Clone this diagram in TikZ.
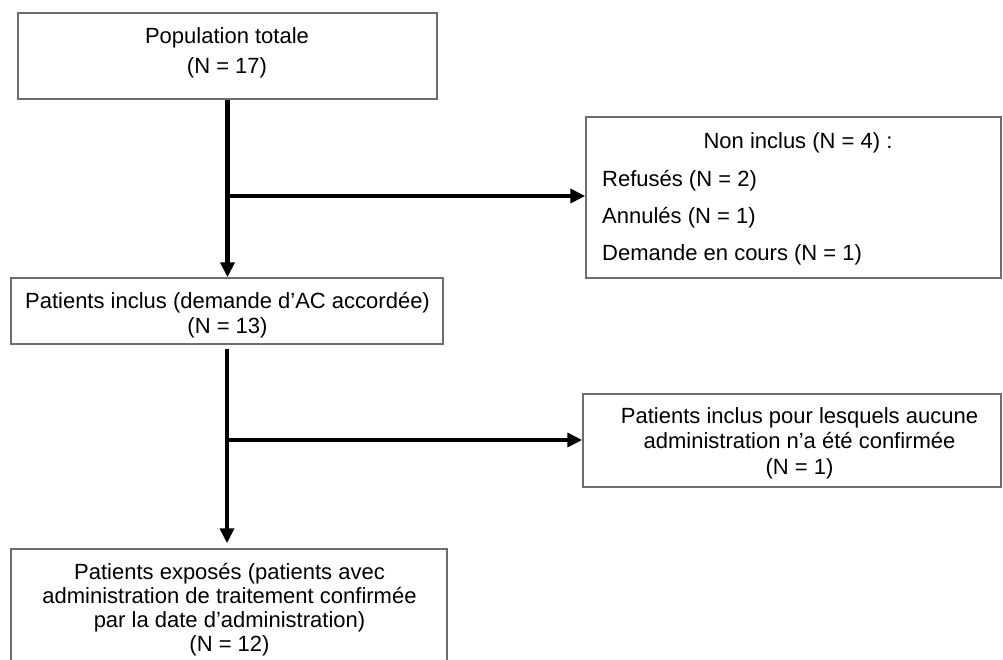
\documentclass[tikz,border=0pt]{standalone}
\usepackage{fontspec}
\setmainfont{Liberation Sans}
\usetikzlibrary{arrows.meta,calc}
\definecolor{boxgray}{RGB}{110,110,110}
\begin{document}
\begin{tikzpicture}[x=1pt,y=-1pt,
  box/.style={draw=boxgray, line width=1.5pt, fill=none, inner sep=0pt},
  txt/.style={inner sep=0pt, font=\fontsize{22}{25}\selectfont, anchor=base},
  txtl/.style={txt, anchor=base west},
  arr/.style={line width=4.5pt, -{Triangle[length=15pt,width=14pt]}}]
\useasboundingbox (0,0) rectangle (1003,659);
\clip (0,0) rectangle (1003,659);
% boxes
\node[box, minimum width=419pt, minimum height=86pt] (b1) at (227.5,56) {};
\node[box, minimum width=415pt, minimum height=161pt] (b2) at (793.5,197.5) {};
\node[box, minimum width=432pt, minimum height=66pt] (b3) at (227,311) {};
\node[box, minimum width=418pt, minimum height=93pt] (b4) at (792,440.5) {};
\node[box, minimum width=436pt, minimum height=151pt] (b5) at (229,624.5) {};
% texts
\node[txt] (t1a) at (227,43) {Population totale};
\node[txt] (t1b) at (227,73) {(N = 17)};
\node[txt] (t2a) at (798,148) {Non inclus (N = 4) :};
\node[txtl] (t2b) at (602,186) {Refusés (N = 2)};
\node[txtl] (t2c) at (602,223) {Annulés (N = 1)};
\node[txtl] (t2d) at (602,260) {Demande en cours (N = 1)};
\node[txt] (t3a) at (227.5,308) {Patients inclus (demande d’AC accordée)};
\node[txt] (t3b) at (227.5,333) {(N = 13)};
\node[txt] (t4a) at (799.5,423) {Patients inclus pour lesquels aucune};
\node[txt] (t4b) at (799.5,448.5) {administration n’a été confirmée};
\node[txt] (t4c) at (799.5,474) {(N = 1)};
\node[txt] (t5a) at (229.5,579) {Patients exposés (patients avec};
\node[txt] (t5b) at (229.5,603) {administration de traitement confirmée};
\node[txt] (t5c) at (229.5,627) {par la date d’administration)};
\node[txt] (t5d) at (229.5,651) {(N = 12)};
% connectors
\coordinate (j1) at ($(b1.south |- 0,196)$);
\coordinate (j2) at ($(b3.south |- 0,440)$);
\draw[arr] (b1.south) -- (b1.south |- b3.north);
\draw[arr] (j1) -- (j1 -| b2.west);
\draw[arr, shorten <=4pt, shorten >=5pt] (b3.south) -- (b3.south |- b5.north);
\draw[arr] (j2) -- (j2 -| b4.west);
\end{tikzpicture}
\end{document}
